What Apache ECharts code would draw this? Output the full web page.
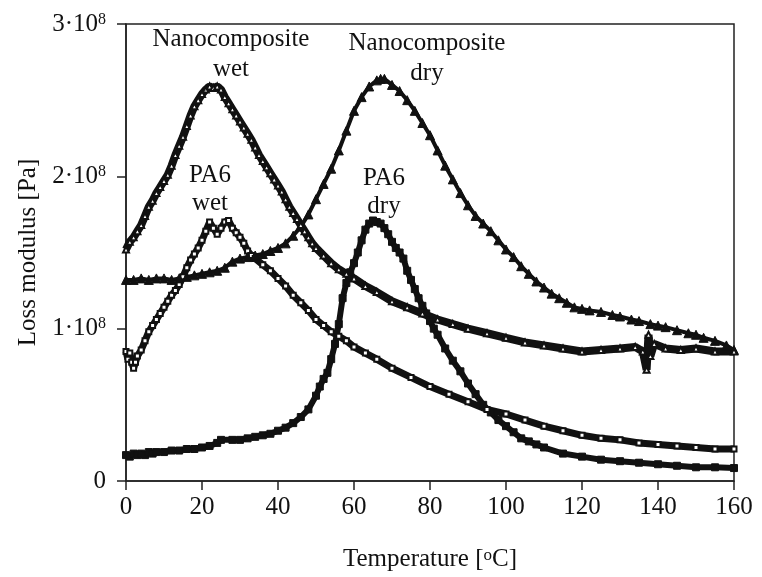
<!DOCTYPE html>
<html style="height: 100%">
<head>
    <meta charset="utf-8">
    <title>Loss modulus</title>
</head>
<body style="height: 100%; margin: 0; background: #fff">
<div id="container" style="width: 762px; height: 577px"></div>
<script type="text/javascript" src="https://cdn.jsdelivr.net/npm/echarts@6/dist/echarts.min.js"></script>
<script type="text/javascript">
    // values: [temperature in °C, loss modulus in 1e8 Pa]
    var nanoWet = [
        [0,1.52],[1,1.57],[2,1.60],[3,1.64],[4,1.68],[5,1.74],[6,1.80],[7,1.84],[8,1.89],[9,1.93],
        [10,1.97],[11,2.01],[12,2.07],[13,2.14],[14,2.20],[15,2.26],[16,2.33],[17,2.40],[18,2.46],[19,2.50],
        [20,2.54],[21,2.57],[22,2.59],[23,2.58],[24,2.59],[25,2.57],[26,2.52],[27,2.48],[28,2.44],[29,2.40],
        [30,2.36],[31,2.32],[32,2.28],[33,2.24],[34,2.19],[35,2.14],[36,2.10],[37,2.06],[38,2.02],[39,1.98],
        [40,1.94],[41,1.90],[42,1.85],[43,1.80],[44,1.76],[45,1.72],[46,1.68],[47,1.64],[48,1.60],[49,1.56],
        [50,1.53],[52,1.48],[54,1.43],[56,1.39],[58,1.36],[60,1.33],[63,1.28],[66,1.24],[70,1.18],[74,1.14],
        [78,1.10],[82,1.06],[86,1.03],[90,1.00],[95,0.97],[100,0.94],[105,0.91],[110,0.89],[115,0.87],[120,0.85],
        [125,0.86],[130,0.87],[134,0.88],[136,0.85],[137,0.73],[137.5,0.96],[138,0.82],[139,0.90],[142,0.87],
        [146,0.86],[150,0.87],[155,0.85],[160,0.85]
    ];
    var nanoDry = [
        [0,1.32],[2,1.32],[4,1.33],[6,1.32],[8,1.33],[10,1.33],[12,1.32],[14,1.33],[16,1.34],[18,1.35],
        [20,1.36],[22,1.37],[24,1.38],[26,1.40],[28,1.44],[30,1.46],[32,1.47],[34,1.48],[36,1.49],[38,1.51],
        [40,1.53],[42,1.56],[44,1.61],[46,1.67],[48,1.75],[50,1.85],[52,1.95],[54,2.05],[56,2.17],[58,2.30],
        [60,2.43],[62,2.52],[64,2.59],[66,2.63],[67,2.64],[68,2.64],[70,2.60],[72,2.56],[74,2.50],[76,2.43],
        [78,2.35],[80,2.27],[82,2.17],[84,2.07],[86,1.98],[88,1.89],[90,1.81],[92,1.74],[94,1.69],[96,1.64],
        [98,1.58],[100,1.52],[102,1.47],[104,1.41],[106,1.36],[108,1.31],[110,1.27],[112,1.23],[114,1.20],
        [116,1.17],[118,1.14],[120,1.13],[122,1.12],[125,1.11],[128,1.09],[130,1.08],[133,1.06],[135,1.05],
        [138,1.03],[140,1.02],[142,1.01],[145,0.99],[148,0.97],[150,0.96],[152,0.94],[155,0.92],[158,0.89],[160,0.86]
    ];
    var pa6Wet = [
        [0,0.85],[0.5,0.80],[1,0.84],[1.5,0.78],[2,0.74],[2.5,0.78],[3,0.82],[4,0.86],[5,0.92],[6,0.98],
        [7,1.02],[8,1.06],[9,1.10],[10,1.14],[11,1.18],[12,1.22],[13,1.25],[14,1.29],[15,1.34],[16,1.40],
        [17,1.45],[18,1.49],[19,1.53],[20,1.58],[21,1.64],[22,1.70],[23,1.66],[24,1.62],[25,1.66],[26,1.70],
        [27,1.71],[28,1.66],[29,1.63],[30,1.60],[31,1.56],[32,1.51],[33,1.48],[34,1.46],[36,1.42],[38,1.38],
        [40,1.33],[42,1.28],[44,1.22],[46,1.17],[48,1.12],[50,1.06],[52,1.02],[54,0.98],[56,0.95],[58,0.92],
        [60,0.88],[63,0.84],[66,0.80],[70,0.74],[75,0.68],[80,0.62],[85,0.57],[90,0.52],[95,0.47],[100,0.44],
        [105,0.40],[110,0.36],[115,0.33],[120,0.30],[125,0.28],[130,0.27],[135,0.25],[140,0.24],[145,0.23],
        [150,0.22],[155,0.21],[160,0.21]
    ];
    var pa6Dry = [
        [0,0.17],[1,0.16],[2,0.18],[3,0.17],[4,0.18],[5,0.17],[6,0.19],[7,0.18],[8,0.19],[10,0.19],
        [12,0.20],[14,0.20],[16,0.21],[18,0.21],[20,0.22],[22,0.23],[24,0.25],[25,0.27],[28,0.27],[30,0.27],
        [32,0.28],[34,0.29],[36,0.30],[38,0.31],[40,0.33],[42,0.35],[44,0.38],[46,0.42],[48,0.47],[50,0.56],
        [51,0.62],[52,0.67],[53,0.71],[54,0.80],[55,0.90],[56,1.03],[57,1.20],[58,1.30],[59,1.37],[60,1.43],
        [61,1.50],[62,1.58],[63,1.65],[64,1.69],[65,1.71],[66,1.70],[67,1.69],[68,1.66],[69,1.62],[70,1.57],
        [71,1.53],[72,1.50],[73,1.46],[74,1.38],[75,1.32],[76,1.26],[77,1.20],[78,1.15],[79,1.10],[80,1.05],
        [81,1.00],[82,0.96],[84,0.87],[86,0.79],[88,0.72],[90,0.64],[92,0.57],[94,0.50],[96,0.45],[98,0.40],
        [100,0.36],[102,0.32],[104,0.28],[106,0.26],[108,0.24],[110,0.22],[115,0.18],[120,0.16],[125,0.14],
        [130,0.13],[135,0.12],[140,0.11],[145,0.10],[150,0.09],[155,0.09],[160,0.085]
    ];
    var xTicks = [0, 20, 40, 60, 80, 100, 120, 140, 160];
    var yTicks = [0, 1, 2, 3];

    var serif = '"Liberation Serif", "DejaVu Serif", serif';
    var ink = '#111';

    var dom = document.getElementById("container");
    var myChart = echarts.init(dom);

    function makeSeries(name, data, symbol, size, lineW, border) {
        return {
            name: name,
            type: 'line',
            data: data,
            symbol: symbol,
            symbolSize: size,
            showAllSymbol: true,
            lineStyle: {color: ink, width: lineW},
            itemStyle: {color: ink, borderColor: ink, borderWidth: border},
            z: 3
        };
    }

    var option = {
        animation: false,
        backgroundColor: '#fff',
        grid: {
            left: 126, right: 28, top: 24, bottom: 87,
            show: true, borderColor: '#222', borderWidth: 1.5
        },
        xAxis: {
            type: 'value',
            min: xTicks[0], max: xTicks[xTicks.length - 1], interval: 20,
            name: 'Temperature [{s|o}C]',
            nameLocation: 'middle',
            nameGap: 66,
            nameTextStyle: {
                fontFamily: serif, fontSize: 25, color: ink,
                rich: {s: {fontFamily: serif, fontSize: 17, verticalAlign: 'top', color: ink}}
            },
            axisLine: {lineStyle: {color: '#222', width: 1.5}},
            axisTick: {inside: false, length: 9, lineStyle: {color: '#222', width: 1.5}},
            axisLabel: {fontFamily: serif, fontSize: 25, color: ink, margin: 14},
            splitLine: {show: false}
        },
        yAxis: {
            type: 'value',
            min: yTicks[0], max: yTicks[yTicks.length - 1], interval: 1,
            name: 'Loss modulus [Pa]',
            nameLocation: 'middle',
            nameGap: 84,
            nameTextStyle: {fontFamily: serif, fontSize: 25, color: ink},
            axisLine: {lineStyle: {color: '#222', width: 1.5}},
            axisTick: {inside: false, length: 9, lineStyle: {color: '#222', width: 1.5}},
            axisLabel: {
                margin: 20,
                formatter: function (v) {
                    return v === 0 ? '{a|0}' : '{a|' + v + '·10}{s|8}';
                },
                rich: {
                    a: {fontFamily: serif, fontSize: 25, color: ink},
                    s: {fontFamily: serif, fontSize: 16, color: ink, verticalAlign: 'top'}
                }
            },
            splitLine: {show: false}
        },
        graphic: [
            {type: 'text', x: 231, y: 54, style: {text: 'Nanocomposite\nwet', align: 'center', verticalAlign: 'middle', font: '25px ' + serif, lineHeight: 30, fill: ink}},
            {type: 'text', x: 427, y: 58, style: {text: 'Nanocomposite\ndry', align: 'center', verticalAlign: 'middle', font: '25px ' + serif, lineHeight: 30, fill: ink}},
            {type: 'text', x: 210, y: 189, style: {text: 'PA6\nwet', align: 'center', verticalAlign: 'middle', font: '25px ' + serif, lineHeight: 28, fill: ink}},
            {type: 'text', x: 384, y: 192, style: {text: 'PA6\ndry', align: 'center', verticalAlign: 'middle', font: '25px ' + serif, lineHeight: 28, fill: ink}}
        ],
        series: [
            makeSeries('PA6 dry', pa6Dry, 'rect', 7, 6, 1),
            makeSeries('PA6 wet', pa6Wet, 'emptyRect', 5, 7, 1.5),
            makeSeries('Nanocomposite dry', nanoDry, 'triangle', 9, 4, 1),
            makeSeries('Nanocomposite wet', nanoWet, 'emptyTriangle', 6, 8, 1.5)
        ]
    };

    if (option && typeof option === "object") {
        myChart.setOption(option, true);
    }
</script>
</body>
</html>
